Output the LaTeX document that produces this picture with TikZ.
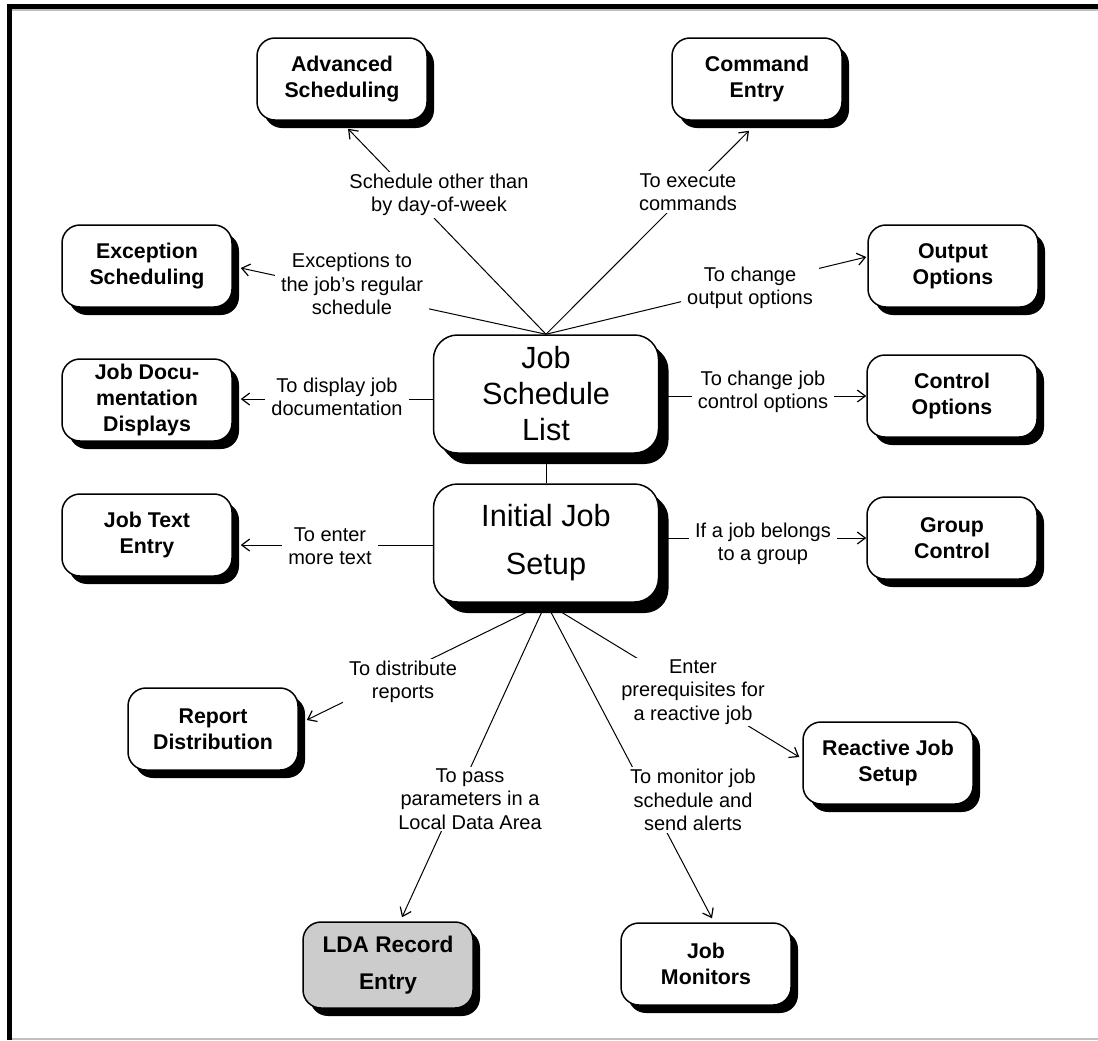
\documentclass[tikz,border=0pt]{standalone}
\usepackage{fontspec}
\setmainfont{Liberation Sans}
\usetikzlibrary{arrows.meta,shadows,calc}
\newdimen\pxu \pxu=0.75pt
\pgfdeclarelayer{back}
\pgfdeclarelayer{bg}
\pgfsetlayers{back,bg,main}
\begin{document}
\begin{tikzpicture}[x=0.75pt,y=-0.75pt,
  box/.style={draw, line width=1.5\pxu, rounded corners=18\pxu, fill=white,
    minimum width=170\pxu, minimum height=82\pxu, inner sep=0pt, align=center,
    font=\fontsize{16}{19.5}\selectfont\bfseries,
    drop shadow={shadow xshift=7\pxu, shadow yshift=-8\pxu, fill=black, opacity=1}},
  bigbox/.style={box, minimum width=225\pxu, minimum height=118\pxu, rounded corners=24\pxu,
    font=\fontsize{23}{27}\selectfont,
    drop shadow={shadow xshift=10\pxu, shadow yshift=-11\pxu, fill=black, opacity=1}},
  lbl/.style={fill=white, align=center, inner xsep=6\pxu, inner ysep=2\pxu, font=\fontsize{15}{17.6}\selectfont},
  ln/.style={line width=1\pxu},
  arr/.style={line width=1\pxu, -{Straight Barb[length=6pt,width=9pt,line width=0.9pt]}}
]
\useasboundingbox (0,0) rectangle (1098,1040);
\begin{pgfonlayer}{back}
\fill[white] (0,0) rectangle (1098,1040);
% frame
\fill[black] (7,4) rectangle (1098,9);
\fill[black] (7,4) rectangle (12,1040);
\fill[black!25] (12,9) rectangle (1098,10.5);
\fill[black!25] (12,1038) rectangle (1098,1040);
\end{pgfonlayer}

% boxes
\node[box] (AS) at (342,79) {Advanced\\Scheduling};
\node[box] (CE) at (757,79) {Command\\Entry};
\node[box] (ES) at (147,266) {Exception\\Scheduling};
\node[box] (OO) at (953,266) {Output\\Options};
\node[bigbox] (JSL) at (546,394) {Job\\Schedule\\List};
\node[box] (JDD) at (147,400) {Job Docu-\\mentation\\Displays};
\node[box] (CO) at (952,396) {Control\\Options};
\node[box] (JTE) at (147,535) {Job Text\\Entry};
\node[bigbox, font=\fontsize{23}{36}\selectfont] (IJS) at (546,543) {Initial Job\\Setup};
\node[box] (GC) at (952,538) {Group\\Control};
\node[box] (RD) at (213,729) {Report\\Distribution};
\node[box] (RJ) at (888,763) {Reactive Job\\Setup};
\node[box, fill=black!20, font=\fontsize{17}{27.75}\selectfont\bfseries, minimum height=86\pxu] (LDA) at (388,965) {LDA Record\\Entry};
\node[box] (JM) at (706,964) {Job\\Monitors};

% connector end coordinates
\coordinate (jteA) at ($(JTE.east)+(8,10)$);
\coordinate (jddA) at ($(JDD.east)+(8,-1)$);

% connectors
\begin{pgfonlayer}{bg}
\draw[arr] (JSL.north) -- ($(AS.south)+(6,8)$);
\draw[arr] (JSL.north) -- ($(CE.south)+(-8,10)$);
\draw[arr] (JSL.north) -- ($(ES.east)+(8,2)$);
\draw[arr] (JSL.north) -- ($(OO.west)+(-1,-9)$);
\draw[arr] (JSL.west |- jddA) -- (jddA);
\draw[arr] (JSL.east |- CO.west) -- (CO.west);
\draw[ln] (JSL.south) -- (IJS.north);
\draw[arr] (IJS.west |- jteA) -- (jteA);
\draw[arr] (IJS.east |- GC.west) -- (GC.west);
\draw[arr] (IJS.south) -- ($(RD.east)+(8,-9)$);
\draw[arr] (IJS.south) -- ($(LDA.north)+(14,-4)$);
\draw[arr] (IJS.south) -- ($(JM.north)+(6,-4)$);
\draw[arr] (IJS.south) -- ($(RJ.west)+(-3,-6)$);
\end{pgfonlayer}

% labels
\node[lbl] (l1) at (439,195) {Schedule other than\\by day-of-week};
\node[lbl] (l2) at (688,192) {To execute\\commands};
\node[lbl] (l3) at (352,284) {Exceptions to\\the job's regular\\schedule};
\node[lbl] (l4) at (750,288) {To change\\output options};
\node[lbl] (l5) at (337,397) {To display job\\documentation};
\node[lbl] (l6) at (763,392) {To change job\\control options};
\node[lbl] (l7) at (330,546) {To enter\\more text};
\node[lbl] (l8) at (763,544) {If a job belongs\\to a group};
\node[lbl] (l9) at (693,692) {Enter\\prerequisites for\\a reactive job};
\node[lbl] (l10) at (403,682) {To distribute\\reports};
\node[lbl] (l11) at (470,799) {To pass\\parameters in a\\Local Data Area};
\node[lbl] (l12) at (693,800) {To monitor job\\schedule and\\send alerts};
\end{tikzpicture}
\end{document}
